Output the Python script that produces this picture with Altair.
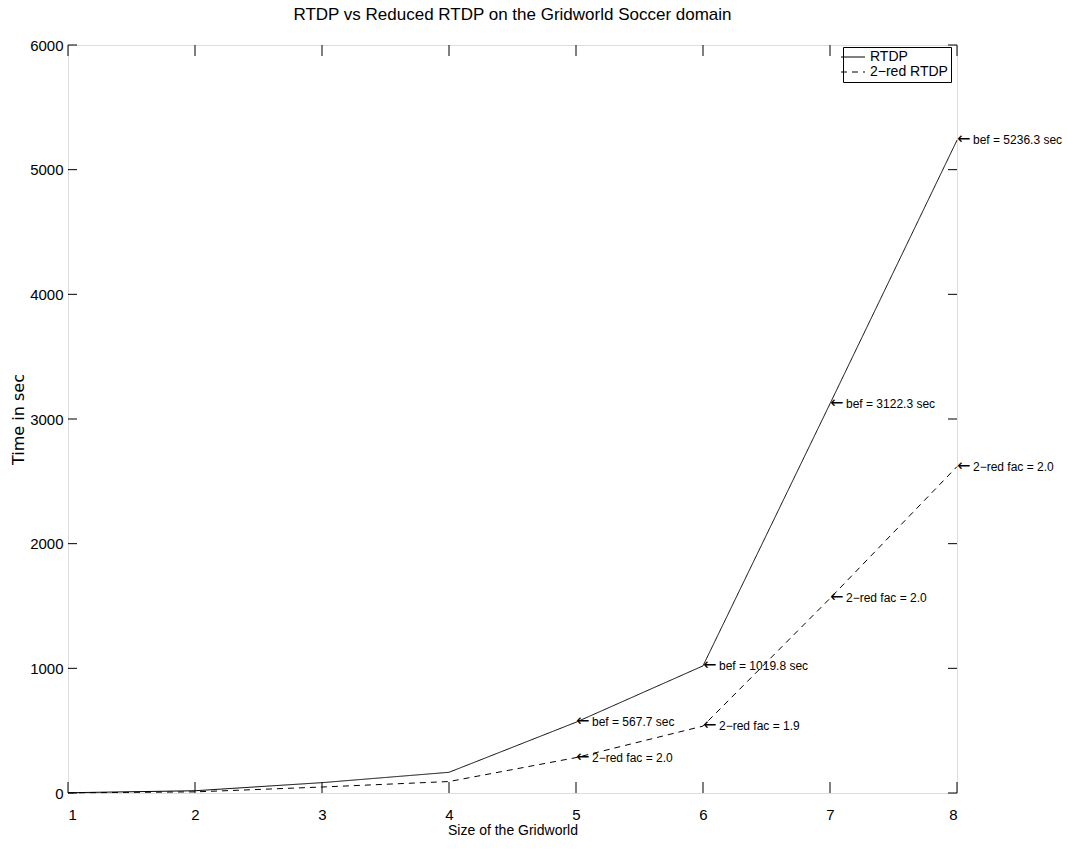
import altair as alt
import pandas as pd

# ---- data ----
grid_sizes = [1, 2, 3, 4, 5, 6, 7, 8]
rtdp_times = [2, 18, 83, 166, 567.7, 1019.8, 3122.3, 5236.3]
red_times = [1, 9, 48, 92, 283.9, 536.7, 1561.2, 2618.2]
series_names = ["RTDP", "2\u2212red RTDP"]

ann_x = [5, 6, 7, 8, 5, 6, 7, 8]
ann_y = [567.7, 1019.8, 3122.3, 5236.3, 283.9, 536.7, 1561.2, 2618.2]
ann_text = [
    "bef = 567.7 sec", "bef = 1019.8 sec",
    "bef = 3122.3 sec", "bef = 5236.3 sec",
    "2\u2212red fac = 2.0", "2\u2212red fac = 1.9",
    "2\u2212red fac = 2.0", "2\u2212red fac = 2.0",
]

x_ticks = [1, 2, 3, 4, 5, 6, 7, 8]
y_ticks = [0, 1000, 2000, 3000, 4000, 5000, 6000]

W, H = 889, 748
FONT = "Liberation Sans"

lines_df = pd.DataFrame({
    "x": grid_sizes * 2,
    "y": rtdp_times + red_times,
    "series": [series_names[0]] * len(grid_sizes) + [series_names[1]] * len(grid_sizes),
})
ann_df = pd.DataFrame({"x": ann_x, "y": ann_y, "text": ann_text})
xt_df = pd.DataFrame({"x": x_ticks})
yt_df = pd.DataFrame({"y": y_ticks})

xscale = alt.Scale(domain=[1, 8], nice=False, zero=False)
yscale = alt.Scale(domain=[0, 6000], nice=False)

x_axis = alt.Axis(values=x_ticks, format="d", ticks=False, tickSize=0, domain=False,
                  grid=False, labelFont=FONT, labelFontSize=15, labelColor="black",
                  labelPadding=14, title="Size of the Gridworld", titleFont=FONT,
                  titleFontSize=14, titleFontWeight="normal", titleColor="black",
                  titlePadding=1)
y_axis = alt.Axis(values=y_ticks, format="d", ticks=False, tickSize=0, domain=False,
                  grid=False, labelFont=FONT, labelFontSize=15, labelColor="black",
                  labelPadding=5, title="Time in sec", titleFont="DejaVu Sans",
                  titleFontSize=16, titleFontWeight="normal", titleColor="black",
                  titlePadding=3)

lines = alt.Chart(lines_df).mark_line(color="black", strokeWidth=1).encode(
    x=alt.X("x:Q", scale=xscale, axis=x_axis),
    y=alt.Y("y:Q", scale=yscale, axis=y_axis),
    strokeDash=alt.StrokeDash(
        "series:N",
        scale=alt.Scale(domain=series_names, range=[[1, 0], [6, 5]]),
        sort=series_names,
        legend=alt.Legend(title=None, orient="none", legendX=775, legendY=2,
                          symbolType="M-3,0H3", symbolSize=64,
                          symbolStrokeColor="black", symbolStrokeWidth=1,
                          labelFont=FONT, labelFontSize=14, labelColor="black",
                          strokeColor="black", fillColor="white", padding=3,
                          rowPadding=1, labelOffset=10),
    ),
)

arrows = alt.Chart(ann_df).mark_text(align="left", baseline="middle", font="DejaVu Sans",
                                     fontSize=16, color="black", dy=-1).encode(
    x=alt.X("x:Q", scale=xscale),
    y=alt.Y("y:Q", scale=yscale),
    text=alt.value("\u2190"),
)
ann = alt.Chart(ann_df).mark_text(align="left", baseline="middle", font=FONT,
                                  fontSize=12, color="black", dx=16).encode(
    x=alt.X("x:Q", scale=xscale),
    y=alt.Y("y:Q", scale=yscale),
    text="text:N",
)

bottom_ticks = alt.Chart(xt_df).mark_rule(color="black", strokeWidth=1).encode(
    x=alt.X("x:Q", scale=xscale), y=alt.value(H), y2=alt.value(H - 11))
top_ticks = alt.Chart(xt_df).mark_rule(color="black", strokeWidth=1).encode(
    x=alt.X("x:Q", scale=xscale), y=alt.value(0), y2=alt.value(11))
left_ticks = alt.Chart(yt_df).mark_rule(color="black", strokeWidth=1).encode(
    y=alt.Y("y:Q", scale=yscale), x=alt.value(0), x2=alt.value(9))
right_ticks = alt.Chart(yt_df).mark_rule(color="black", strokeWidth=1).encode(
    y=alt.Y("y:Q", scale=yscale), x=alt.value(W), x2=alt.value(W - 9))

chart = alt.layer(bottom_ticks, top_ticks, left_ticks, right_ticks, lines, arrows, ann).properties(
    width=W, height=H,
    title=alt.TitleParams("RTDP vs Reduced RTDP on the Gridworld Soccer domain",
                          font=FONT, fontSize=17, fontWeight="normal",
                          color="black", anchor="middle", offset=14),
    autosize=alt.AutoSizeParams(type="none"),
    padding={"left": 68, "top": 45, "right": 110, "bottom": 57},
).configure_view(stroke="black", strokeWidth=1.5).configure(background="white")

chart.save("out.html", embed_options={"renderer": "svg", "actions": False})
